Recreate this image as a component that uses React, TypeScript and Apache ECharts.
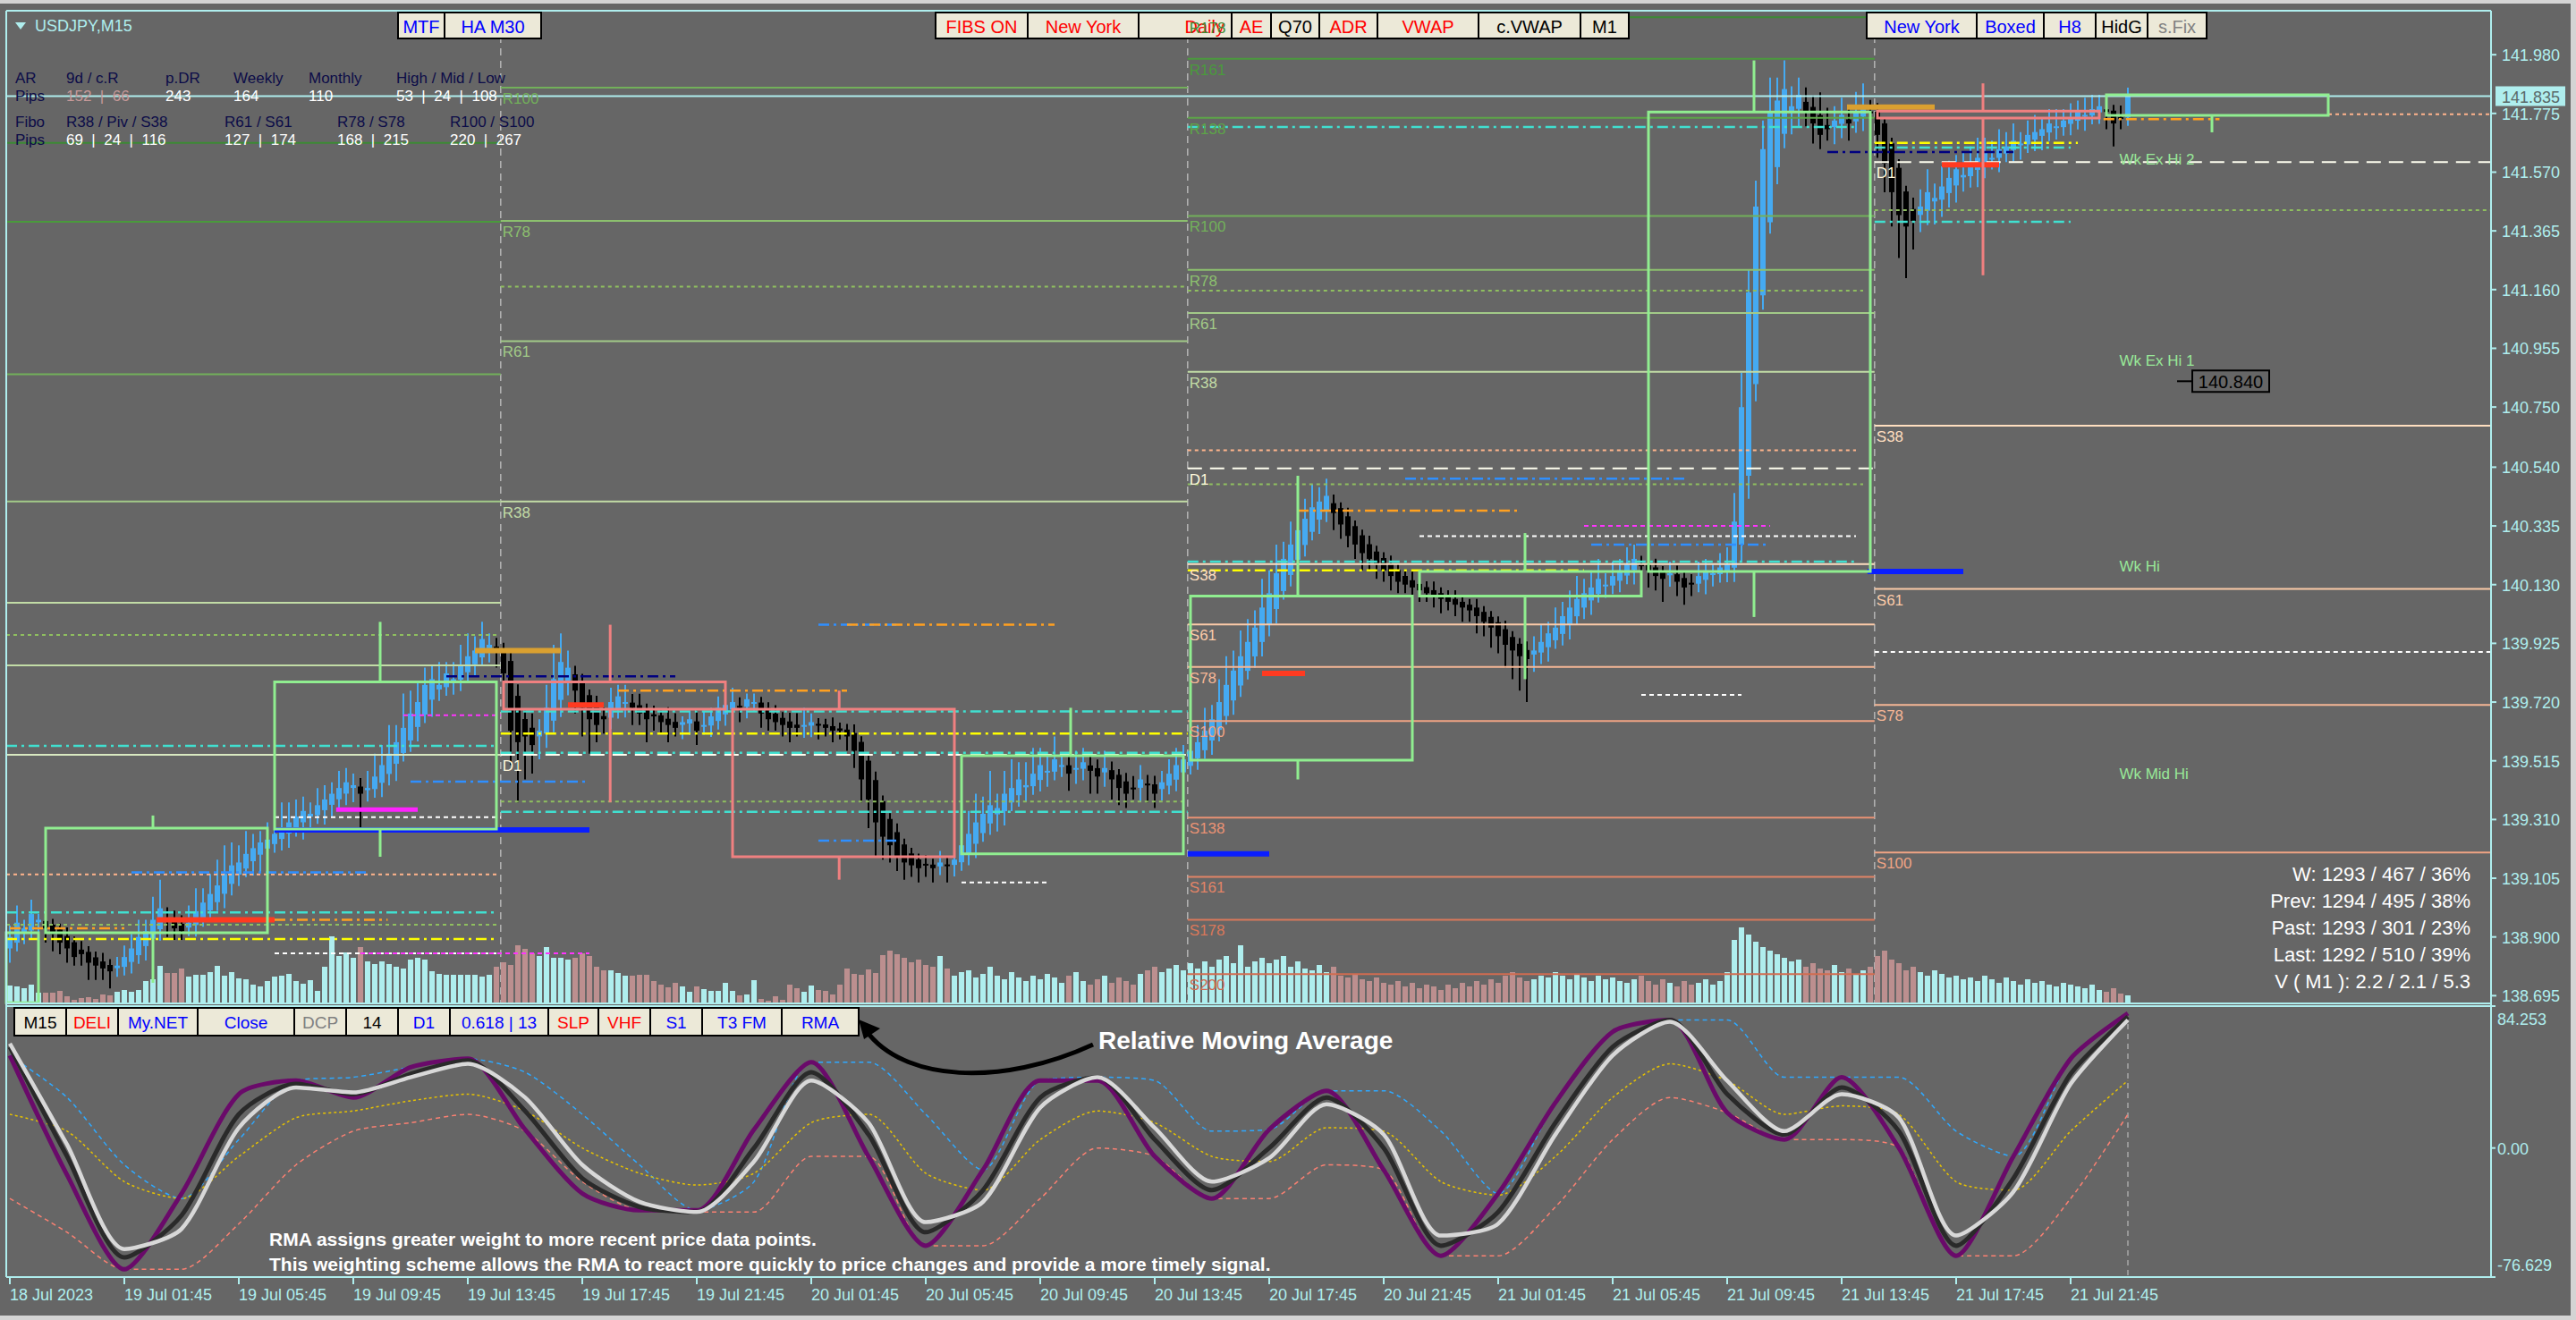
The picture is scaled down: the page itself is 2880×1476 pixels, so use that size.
import React, { useEffect, useRef } from "react";
import * as echarts from "echarts";

const W = 2880;
const H = 1476;
const BG = "#666666";
const FRAME = "#AFEEEE";
const FONT = '"Liberation Sans", Arial, sans-serif';

// ---------------- DATA ----------------
const firstOpen = 138.86;
// Heikin-Ashi close values (M15 bars)
const closes = [
  138.90, 138.95, 138.93, 138.98, 138.96, 138.93, 138.91, 138.88, 138.86, 138.83, 138.84, 138.81, 138.80, 138.79, 138.78, 138.80,
  138.83, 138.86, 138.90, 138.92, 138.96, 139.00, 138.96, 138.93, 138.92, 138.95, 138.99, 139.02, 139.05, 139.08, 139.12, 139.15,
  139.16, 139.19, 139.21, 139.23, 139.24, 139.26, 139.28, 139.30, 139.32, 139.34, 139.33, 139.36, 139.38, 139.40, 139.42, 139.44,
  139.43, 139.40, 139.42, 139.46, 139.50, 139.54, 139.58, 139.63, 139.68, 139.72, 139.78, 139.80, 139.78, 139.82, 139.80, 139.85,
  139.88, 139.90, 139.94, 139.92, 139.90, 139.82, 139.62, 139.58, 139.60, 139.57, 139.62, 139.70, 139.80, 139.86, 139.84, 139.76,
  139.70, 139.66, 139.64, 139.66, 139.72, 139.74, 139.72, 139.70, 139.68, 139.66, 139.67, 139.65, 139.64, 139.63, 139.65, 139.66,
  139.62, 139.64, 139.67, 139.70, 139.71, 139.72, 139.70, 139.73, 139.72, 139.68, 139.66, 139.65, 139.64, 139.63, 139.63, 139.64,
  139.65, 139.64, 139.63, 139.62, 139.62, 139.60, 139.55, 139.45, 139.38, 139.30, 139.25, 139.22, 139.18, 139.16, 139.15, 139.14,
  139.15, 139.14, 139.16, 139.15, 139.17, 139.22, 139.26, 139.30, 139.33, 139.36, 139.35, 139.40, 139.42, 139.45, 139.43, 139.47,
  139.50, 139.48, 139.52, 139.50, 139.47, 139.49, 139.51, 139.48, 139.46, 139.49, 139.45, 139.42, 139.40, 139.42, 139.45, 139.43,
  139.40, 139.44, 139.47, 139.50, 139.52, 139.55, 139.58, 139.62, 139.66, 139.72, 139.78, 139.83, 139.88, 139.93, 139.98, 140.05,
  140.10, 140.17, 140.22, 140.27, 140.32, 140.36, 140.40, 140.42, 140.44, 140.38, 140.34, 140.30, 140.27, 140.24, 140.22, 140.20,
  140.18, 140.16, 140.14, 140.13, 140.12, 140.11, 140.10, 140.09, 140.08, 140.07, 140.06, 140.05, 140.04, 140.02, 140.00, 139.98,
  139.95, 139.92, 139.90, 139.88, 139.87, 139.90, 139.93, 139.96, 139.98, 140.02, 140.05, 140.08, 140.10, 140.12, 140.15, 140.13,
  140.16, 140.18, 140.20, 140.22, 140.20, 140.18, 140.16, 140.15, 140.17, 140.14, 140.12, 140.13, 140.16, 140.18, 140.17, 140.19,
  140.20, 140.35, 140.75, 141.15, 141.45, 141.65, 141.78, 141.82, 141.86, 141.80, 141.84, 141.78, 141.74, 141.70, 141.72, 141.75,
  141.77, 141.74, 141.78, 141.80, 141.78, 141.70, 141.60, 141.50, 141.42, 141.38, 141.40, 141.45, 141.50, 141.48, 141.52, 141.55,
  141.58, 141.56, 141.60, 141.62, 141.64, 141.62, 141.65, 141.66, 141.68, 141.67, 141.70, 141.71, 141.72, 141.74, 141.73, 141.75,
  141.76, 141.78, 141.77, 141.79, 141.80, 141.78, 141.74, 141.76, 141.835,
];
// wick lengths in pips (0.01)
const upWick = [
  4, 6, 3, 5, 2, 3, 2, 2, 3, 2, 3, 2, 2, 3, 2, 3,
  4, 5, 6, 4, 8, 10, 4, 3, 3, 6, 8, 5, 7, 9, 10, 8,
  6, 8, 5, 4, 6, 5, 9, 7, 6, 5, 4, 6, 5, 4, 6, 5,
  4, 3, 6, 8, 7, 10, 6, 12, 8, 7, 6, 5, 8, 4, 6, 7,
  8, 5, 6, 4, 3, 2, 3, 4, 3, 5, 4, 8, 12, 10, 6, 3,
  3, 2, 4, 3, 5, 4, 6, 3, 4, 2, 3, 2, 4, 3, 2, 3,
  4, 5, 3, 4, 2, 5, 3, 2, 3, 2, 2, 3, 2, 3, 4, 6,
  3, 2, 2, 3, 2, 2, 3, 2, 2, 3, 2, 2, 3, 2, 2, 2,
  3, 2, 4, 3, 5, 6, 8, 10, 6, 12, 5, 8, 10, 6, 8, 9,
  6, 5, 8, 4, 3, 6, 5, 4, 3, 6, 3, 2, 3, 4, 5, 3,
  3, 4, 5, 6, 5, 4, 6, 8, 5, 8, 10, 7, 9, 8, 6, 10,
  8, 10, 6, 8, 9, 7, 8, 5, 6, 3, 2, 3, 2, 2, 3, 2,
  2, 3, 2, 2, 3, 2, 2, 3, 2, 2, 3, 2, 2, 3, 2, 2,
  2, 3, 2, 2, 3, 5, 6, 4, 7, 5, 6, 8, 5, 6, 7, 4,
  5, 4, 6, 5, 3, 2, 3, 2, 4, 3, 2, 3, 5, 4, 3, 5,
  6, 10, 12, 8, 9, 10, 12, 8, 10, 7, 6, 5, 4, 8, 6, 5,
  6, 5, 7, 8, 4, 3, 2, 2, 3, 2, 4, 6, 8, 5, 7, 6,
  5, 8, 6, 7, 5, 6, 7, 5, 6, 4, 5, 6, 4, 5, 6, 4,
  5, 4, 6, 5, 4, 3, 2, 4, 3,
];
const dnWick = [
  5, 3, 4, 3, 4, 5, 6, 4, 5, 3, 4, 6, 5, 4, 6, 3,
  3, 4, 3, 5, 3, 4, 6, 4, 3, 3, 4, 3, 4, 3, 5, 4,
  4, 3, 5, 6, 4, 3, 4, 5, 3, 6, 4, 3, 5, 4, 3, 4,
  5, 12, 4, 3, 5, 4, 6, 3, 4, 5, 3, 6, 4, 3, 5, 4,
  3, 4, 3, 5, 6, 8, 12, 21, 15, 10, 8, 5, 4, 6, 5, 8,
  10, 12, 6, 5, 4, 3, 5, 6, 4, 8, 5, 4, 6, 3, 5, 4,
  5, 3, 4, 3, 4, 3, 5, 4, 3, 5, 4, 3, 4, 5, 3, 4,
  4, 5, 3, 4, 3, 5, 6, 8, 10, 12, 8, 6, 5, 6, 4, 5,
  4, 5, 3, 6, 4, 3, 4, 5, 3, 4, 6, 5, 3, 4, 5, 3,
  4, 5, 3, 4, 6, 5, 4, 8, 6, 5, 7, 6, 5, 4, 5, 6,
  5, 4, 3, 4, 5, 3, 4, 3, 5, 4, 3, 5, 4, 3, 4, 5,
  4, 5, 3, 4, 3, 4, 3, 5, 4, 6, 5, 4, 5, 6, 4, 5,
  4, 5, 4, 3, 5, 4, 3, 4, 5, 3, 4, 5, 4, 6, 5, 7,
  6, 8, 10, 12, 15, 6, 4, 5, 3, 4, 5, 3, 4, 5, 3, 4,
  3, 4, 3, 5, 4, 6, 5, 8, 4, 5, 6, 4, 3, 5, 4, 3,
  4, 5, 6, 8, 6, 5, 4, 6, 5, 8, 6, 5, 7, 5, 4, 6,
  5, 6, 4, 5, 6, 8, 10, 12, 15, 18, 10, 6, 5, 8, 6, 5,
  6, 5, 4, 6, 5, 4, 5, 3, 4, 5, 3, 4, 5, 3, 4, 3,
  4, 3, 5, 3, 4, 6, 8, 4, 3,
];
const tickVolume = [
  19, 18, 16, 20, 11, 11, 11, 13, 7, 3, 5, 6, 4, 9, 8, 12,
  14, 12, 14, 24, 26, 41, 33, 33, 38, 29, 31, 31, 34, 41, 30, 34,
  27, 26, 20, 18, 24, 29, 30, 32, 24, 21, 25, 13, 40, 74, 52, 56,
  50, 62, 46, 43, 46, 43, 40, 38, 48, 50, 48, 35, 32, 31, 31, 31,
  31, 31, 29, 31, 40, 45, 42, 64, 60, 55, 52, 62, 50, 50, 48, 50,
  55, 52, 40, 36, 36, 33, 30, 30, 31, 31, 24, 20, 17, 22, 18, 12,
  18, 15, 13, 13, 22, 13, 8, 9, 25, 4, 2, 7, 3, 20, 16, 12,
  19, 14, 13, 9, 20, 38, 32, 31, 37, 33, 53, 58, 54, 50, 45, 48,
  42, 40, 52, 38, 30, 34, 36, 28, 32, 40, 30, 26, 34, 28, 24, 30,
  26, 32, 28, 22, 30, 34, 24, 20, 26, 30, 22, 28, 24, 20, 32, 36,
  40, 34, 38, 42, 36, 44, 38, 46, 40, 48, 52, 44, 64, 40, 46, 50,
  44, 48, 52, 40, 46, 38, 36, 42, 34, 40, 30, 28, 32, 26, 24, 28,
  22, 20, 24, 18, 22, 16, 20, 18, 14, 20, 16, 22, 18, 24, 20, 26,
  22, 30, 34, 28, 24, 26, 30, 28, 34, 30, 26, 32, 28, 24, 30, 26,
  28, 24, 22, 26, 30, 24, 20, 26, 22, 18, 24, 20, 22, 26, 20, 24,
  34, 70, 84, 76, 68, 62, 58, 54, 50, 46, 48, 40, 44, 38, 36, 42,
  34, 38, 32, 36, 40, 52, 58, 48, 44, 36, 40, 34, 30, 36, 32, 28,
  30, 26, 28, 24, 30, 26, 22, 28, 24, 20, 26, 22, 24, 20, 18, 22,
  20, 18, 16, 20, 14, 12, 16, 10, 8,
];

const priceTicks = [141.98, 141.775, 141.57, 141.365, 141.16, 140.955, 140.75, 140.54, 140.335, 140.13, 139.925, 139.72, 139.515, 139.31, 139.105, 138.9, 138.695];
const lastPrice = 141.835;
const timeTickLabels = [
  "18 Jul 2023", "19 Jul 01:45", "19 Jul 05:45", "19 Jul 09:45", "19 Jul 13:45", "19 Jul 17:45", "19 Jul 21:45",
  "20 Jul 01:45", "20 Jul 05:45", "20 Jul 09:45", "20 Jul 13:45", "20 Jul 17:45", "20 Jul 21:45",
  "21 Jul 01:45", "21 Jul 05:45", "21 Jul 09:45", "21 Jul 13:45", "21 Jul 17:45", "21 Jul 21:45",
];
const barsPerTimeTick = 16;
const oscTicks = [84.253, 0, -76.629];
const oscTickLabels = ["84.253", "0.00", "-76.629"];
const daySeparators = [68.6, 164.6, 260.6];

// oscillator (RMA) samples
const oscIdx = [0, 8, 16, 24, 32, 40, 48, 56, 64, 72, 80, 88, 96, 104, 112, 120, 128, 136, 144, 152, 160, 168, 176, 184, 192, 200, 208, 216, 224, 232, 240, 248, 256, 264, 272, 280, 288, 296];
const rmaPurple = [55, -16, -72, -27, 32, 40, 30, 48, 53, 11, -27, -37, -37, 11, 51, -5, -58, -13, 40, 40, -5, -30, 11, 34, -13, -64, -27, 27, 69, 76, 21, 5, 42, 0, -64, -5, 53, 80];
const rmaBlack = [60, -5, -65, -40, 20, 38, 32, 44, 52, 22, -18, -35, -38, 0, 45, 8, -50, -25, 30, 42, 5, -25, 0, 30, 0, -58, -38, 15, 60, 76, 32, 8, 36, 10, -58, -18, 44, 78];
const rmaWhite = [62, 2, -60, -48, 12, 36, 33, 42, 50, 30, -10, -32, -38, -8, 40, 15, -44, -32, 24, 42, 12, -20, -6, 26, 8, -52, -45, 8, 55, 75, 40, 10, 32, 18, -52, -26, 38, 76];
const sigYellow = [20, 10, -20, -30, -5, 18, 22, 28, 32, 22, 0, -15, -22, -15, 15, 20, -15, -25, 5, 22, 15, -5, -8, 12, 10, -20, -28, -5, 30, 50, 40, 20, 25, 20, -20, -25, 10, 40];
const bandSalmon = [-30, -50, -72, -72, -45, -10, 10, 15, 20, 10, -20, -37, -38, -38, -5, -5, -58, -58, -30, 0, -5, -30, -30, -10, -13, -64, -64, -35, 5, 30, 21, 5, 5, 0, -64, -64, -30, 20];
const bandBlue = [55, 30, -10, -30, 5, 40, 42, 48, 53, 45, 20, -10, -37, -20, 51, 51, 20, -13, 40, 42, 40, 10, 11, 34, 34, 10, -27, 27, 69, 76, 76, 42, 42, 42, 10, -5, 53, 80];

// H8 boxed candles
const h8Boxes = [
  { from: -0.5, to: 4, open: 138.67, close: 138.915, high: 138.915, low: 138.67, wick: -1 },
  { from: 5, to: 36, open: 138.915, close: 139.28, high: 139.324, low: 138.74, wick: 20 },
  { from: 37, to: 68, open: 139.277, close: 139.79, high: 140.0, low: 139.18, wick: 51.75 },
  { from: 69, to: 100, open: 139.79, close: 139.695, high: 139.99, low: 139.37, wick: 83.9 },
  { from: 101, to: 132, open: 139.695, close: 139.18, high: 139.76, low: 139.1, wick: 115.9 },
  { from: 133, to: 164, open: 139.19, close: 139.533, high: 139.7, low: 139.19, wick: 148.25 },
  { from: 165, to: 196, open: 139.517, close: 140.09, high: 140.51, low: 139.45, wick: 180 },
  { from: 197, to: 228, open: 140.09, close: 140.176, high: 140.31, low: 139.8, wick: 211.75 },
  { from: 229, to: 260, open: 140.176, close: 141.78, high: 141.96, low: 140.017, wick: 243.75 },
  { from: 261, to: 292, open: 141.783, close: 141.759, high: 141.88, low: 141.21, wick: 275.75 },
  { from: 293, to: 324, open: 141.768, close: 141.84, high: 141.84, low: 141.709, wick: 307.75 },
];

// daily fibonacci levels
const fiboDay0Prices = [141.672, 141.397, 140.864, 140.42, 140.067, 139.848, 139.536];
const fiboDay0Names = ["R100", "R78", "R61", "R38", "R38", "R38", "R38"];
const fiboDay1Names = ["R100", "R78", "R61", "R38", "D1"];
const fiboDay1Prices = [141.865, 141.4, 140.98, 140.42, 139.536];
const fiboDay2Names = ["R178", "R161", "R138", "R100", "R78", "R61", "R38", "D1", "S38", "S61", "S78", "S100", "S138", "S161", "S178", "S200"];
const fiboDay2Prices = [142.111, 141.966, 141.76, 141.417, 141.229, 141.078, 140.873, 140.536, 140.202, 139.991, 139.843, 139.654, 139.317, 139.11, 138.96, 138.77];
const fiboDay3Names = ["D1", "S38", "S61", "S78", "S100"];
const fiboDay3Prices = [141.605, 140.685, 140.115, 139.71, 139.195];

// other levels: [fromBar, toBar, price]
const greenDotted = [[-0.5, 68, 139.954], [-0.5, 68, 138.943], [68.6, 164.6, 141.17], [164.6, 259, 141.156], [164.6, 259, 140.48], [260.6, 346.75, 141.437], [68.6, 164.6, 139.373]];
const peachDotted = [[-0.5, 68, 139.118], [164.6, 258, 140.599], [324, 346.5, 141.772]];
const cyanDashDot = [[-0.5, 68, 139.567], [-0.5, 68, 138.986], [68.6, 164.6, 139.687], [68.6, 164.6, 139.543], [68.6, 164.6, 139.337], [164.6, 258, 140.21], [164.6, 258, 141.728], [260.6, 288, 141.397], [260.6, 288, 141.656]];
const yellowDashDot = [[-0.5, 68, 138.893], [68.6, 164.6, 139.61], [164.6, 220, 140.18], [260.6, 289, 141.672]];
const whiteDotted = [[37, 68.6, 138.843], [37, 68.6, 139.318], [133, 145, 139.09], [197, 258, 140.299], [260.6, 346.75, 139.895], [228, 242, 139.745]];
const magentaDotted = [[55, 68.6, 139.674], [49, 81, 138.843], [220, 246, 140.335]];
const blueDashDot = [[56, 81, 139.442], [17, 50, 139.125], [113, 124, 139.99], [195, 234, 140.5], [221, 246, 140.27], [113, 124, 139.236]];
const navyDashDot = [[61, 93, 139.81], [254, 280, 141.64]];
const orangeDashDot = [[0, 16, 138.93], [85, 117, 139.76], [117, 146, 139.99], [180, 211, 140.388], [292.6, 308.8, 141.755], [37, 52.8, 138.96]];
const blueThick = [[37, 81, 139.274], [164.6, 176, 139.19], [259.6, 273, 140.176]];
const redThick = [[20.5, 37, 138.96], [175, 181, 139.82], [78, 83, 139.71], [270, 278, 141.596]];
const goldThick = [[65, 77, 139.9], [256.75, 269, 141.797]];
const magentaThick = [[45.6, 57, 139.345]];

const weeklyNames = ["Wk Ex Hi 2", "Wk Ex Hi 1", "Wk Hi", "Wk Mid Hi"];
const weeklyPrices = [141.615, 140.91, 140.193, 139.47];
const weeklyLabelBar = 294.8;
const markedPrice = 140.84;

const statsLines = ["W: 1293 / 467 / 36%", "Prev: 1294 / 495 / 38%", "Past: 1293 / 301 / 23%", "Last: 1292 / 510 / 39%", "V ( M1 ): 2.2 / 2.1 / 5.3"];

// ---------------- STYLES ----------------
const fiboColors: Record<string, string> = {
  R200: "#2E7D32", R178: "#3C8A34", R161: "#4A9A3C", R138: "#5DA548", R100: "#72B05A", R78: "#8CC06E", R61: "#A2CA88", R38: "#C2DCA6",
  D1: "#FFFFF0", S38: "#FFDFC0", S61: "#FCCBA8", S78: "#F6B796", S100: "#F0A484", S138: "#E99274", S161: "#E28466", S178: "#DA785A", S200: "#D26C50",
};
const day0Colors = ["#3C8A34", "#4A9A3C", "#72B05A", "#A2CA88", "#C2DCA6", "#C2DCA6", "#D8E8C0"];

const CANDLE_UP = "#45AAF2";
const CANDLE_DN = "#000000";

function txtStyle(text: string, fill: string, size: number, align = "left", valign = "middle", weight = "normal") {
  return {
    text, fill, fontSize: size, fontFamily: FONT, fontWeight: weight,
    align, verticalAlign: valign, textAlign: align, textVerticalAlign: valign,
  } as any;
}

function segSeries(segs: number[][], style: any, z = 3) {
  return {
    type: "custom", xAxisIndex: 0, yAxisIndex: 0, z, silent: true,
    data: segs.map((s) => [s[0], s[2]]),
    renderItem: (params: any, api: any) => {
      const s = segs[params.dataIndex];
      const a = api.coord([s[0], s[2]]);
      const b = api.coord([s[1], s[2]]);
      return { type: "line", shape: { x1: a[0], y1: a[1], x2: b[0], y2: b[1] }, style: { ...style, fill: null } };
    },
  };
}

function fiboSeries(names: string[], prices: number[], from: number, to: number, colors?: string[], labels = true) {
  const lines = {
    type: "custom", xAxisIndex: 0, yAxisIndex: 0, z: 3, silent: true,
    data: prices.map((p) => [from, p]),
    renderItem: (params: any, api: any) => {
      const i = params.dataIndex;
      const n = names[i];
      const a = api.coord([from, prices[i]]);
      const b = api.coord([to, prices[i]]);
      const col = colors ? colors[i] : fiboColors[n];
      const isPivot = n === "D1";
      return {
        type: "line", shape: { x1: a[0], y1: a[1], x2: b[0], y2: b[1] },
        style: { stroke: isPivot ? "#FFFFF0" : col, lineWidth: 2, lineDash: isPivot ? [16, 9] : null },
      };
    },
  };
  if (!labels) return [lines];
  const texts = {
    type: "custom", xAxisIndex: 0, yAxisIndex: 0, z: 60, silent: true,
    data: prices.map((p) => [from, p]),
    renderItem: (params: any, api: any) => {
      const i = params.dataIndex;
      const n = names[i];
      const a = api.coord([from, prices[i]]);
      return { type: "text", x: a[0] + 2, y: a[1] + 4, style: txtStyle(n, n === "D1" ? "#FFF8DC" : fiboColors[n], 17, "left", "top") };
    },
  };
  return [lines, texts];
}

function button(x: number, y: number, w: number, h: number, t: string, c: string, size = 20, align = "center") {
  return {
    type: "group", z: 50,
    children: [
      { type: "rect", z: 50, shape: { x, y, width: w, height: h }, style: { fill: "#ECE9D8", stroke: "#000000", lineWidth: 2 } },
      { type: "text", z: 51, x: align === "center" ? x + w / 2 : x + w - 8, y: y + h / 2 + 1, style: txtStyle(t, c, size, align, "middle") },
    ],
  };
}

const topButtons = [
  { x: 445, w: 52, t: "MTF", c: "#0000FF" },
  { x: 497, w: 108, t: "HA M30", c: "#0000FF" },
  { x: 1046, w: 103, t: "FIBS ON", c: "#FF0000" },
  { x: 1149, w: 124, t: "New York", c: "#FF0000" },
  { x: 1273, w: 104, t: "Daily", c: "#FF0000", right: true },
  { x: 1377, w: 44, t: "AE", c: "#FF0000" },
  { x: 1421, w: 54, t: "Q70", c: "#000000" },
  { x: 1475, w: 65, t: "ADR", c: "#FF0000" },
  { x: 1540, w: 113, t: "VWAP", c: "#FF0000" },
  { x: 1653, w: 114, t: "c.VWAP", c: "#000000" },
  { x: 1767, w: 54, t: "M1", c: "#000000" },
  { x: 2087, w: 123, t: "New York", c: "#0000FF" },
  { x: 2210, w: 75, t: "Boxed", c: "#0000FF" },
  { x: 2285, w: 58, t: "H8", c: "#0000FF" },
  { x: 2343, w: 58, t: "HidG", c: "#000000" },
  { x: 2401, w: 66, t: "s.Fix", c: "#808080" },
];
const bottomButtons = [
  { x: 16, w: 58, t: "M15", c: "#000000" },
  { x: 74, w: 58, t: "DELI", c: "#FF0000" },
  { x: 132, w: 89, t: "My.NET", c: "#0000FF" },
  { x: 221, w: 108, t: "Close", c: "#0000FF" },
  { x: 329, w: 58, t: "DCP", c: "#808080" },
  { x: 387, w: 58, t: "14", c: "#000000" },
  { x: 445, w: 58, t: "D1", c: "#0000FF" },
  { x: 503, w: 110, t: "0.618 | 13", c: "#0000FF" },
  { x: 613, w: 56, t: "SLP", c: "#FF0000" },
  { x: 669, w: 58, t: "VHF", c: "#FF0000" },
  { x: 727, w: 58, t: "S1", c: "#0000FF" },
  { x: 785, w: 89, t: "T3 FM", c: "#0000FF" },
  { x: 874, w: 86, t: "RMA", c: "#0000FF" },
];

function buildOption() {
  // Heikin-Ashi open: midpoint of the previous bar's body
  const opens: number[] = [];
  closes.forEach((c, i) => {
    opens.push(i === 0 ? firstOpen : (opens[i - 1] + closes[i - 1]) / 2);
  });
  const highs = closes.map((c, i) => Math.max(opens[i], c) + (upWick[i] ?? 2) * 0.01);
  const lows = closes.map((c, i) => Math.min(opens[i], c) - (dnWick[i] ?? 2) * 0.01);

  const series: any[] = [];

  // day separators
  series.push({
    type: "custom", xAxisIndex: 0, yAxisIndex: 0, z: 1, silent: true,
    data: daySeparators.map((d) => [d, 142]),
    renderItem: (params: any, api: any) => {
      const d = daySeparators[params.dataIndex];
      const a = api.coord([d, 142.1335]);
      const b = api.coord([d, 138.668]);
      return { type: "line", shape: { x1: a[0], y1: a[1], x2: b[0], y2: b[1] }, style: { stroke: "#B4B4B4", lineWidth: 1.5, lineDash: [8, 6] } };
    },
  });

  // volume
  series.push({
    type: "bar", xAxisIndex: 1, yAxisIndex: 1, z: 1, silent: true, barWidth: 6,
    data: tickVolume.map((v, i) => ({ value: [i, v], itemStyle: { color: closes[i] >= opens[i] ? "#AFEEEE" : "#BC8F8F" } })),
  });

  // candles
  series.push({
    type: "custom", xAxisIndex: 0, yAxisIndex: 0, z: 2, silent: true,
    data: closes.map((c, i) => [i, c]),
    renderItem: (params: any, api: any) => {
      const i = params.dataIndex;
      const o = opens[i], c = closes[i];
      const col = c >= o ? CANDLE_UP : CANDLE_DN;
      const x = api.coord([i, c])[0];
      const yo = api.coord([i, o])[1];
      const yc = api.coord([i, c])[1];
      const yh = api.coord([i, highs[i]])[1];
      const yl = api.coord([i, lows[i]])[1];
      return {
        type: "group",
        children: [
          { type: "line", shape: { x1: x, y1: yh, x2: x, y2: yl }, style: { stroke: col, lineWidth: 2 } },
          { type: "rect", shape: { x: x - 3, y: Math.min(yo, yc), width: 6, height: Math.max(2, Math.abs(yo - yc)) }, style: { fill: col } },
        ],
      };
    },
  });

  // fibonacci daily levels
  series.push(...fiboSeries(fiboDay0Names, fiboDay0Prices, -0.5, 68.6, day0Colors, false));
  series.push(...fiboSeries(fiboDay1Names, fiboDay1Prices, 68.6, 164.6));
  series.push(...fiboSeries(fiboDay2Names, fiboDay2Prices, 164.6, 260.6));
  series.push(...fiboSeries(fiboDay3Names, fiboDay3Prices, 260.6, 346.75));

  // other levels
  series.push(segSeries(greenDotted, { stroke: "#8FBF5F", lineWidth: 2, lineDash: [4, 4] }));
  series.push(segSeries(peachDotted, { stroke: "#FFB48C", lineWidth: 2, lineDash: [4, 4] }));
  series.push(segSeries(cyanDashDot, { stroke: "#40E0D0", lineWidth: 2.5, lineDash: [12, 5, 3, 5] }));
  series.push(segSeries(yellowDashDot, { stroke: "#FFFF00", lineWidth: 2.5, lineDash: [12, 5, 3, 5] }));
  series.push(segSeries(whiteDotted, { stroke: "#FFFFFF", lineWidth: 2, lineDash: [5, 4] }));
  series.push(segSeries(magentaDotted, { stroke: "#FF33FF", lineWidth: 2, lineDash: [5, 4] }));
  series.push(segSeries(blueDashDot, { stroke: "#2F8FFF", lineWidth: 2.5, lineDash: [12, 5, 3, 5] }));
  series.push(segSeries(navyDashDot, { stroke: "#000080", lineWidth: 2.5, lineDash: [12, 5, 3, 5] }));
  series.push(segSeries(orangeDashDot, { stroke: "#FFA020", lineWidth: 2.5, lineDash: [12, 5, 3, 5] }));
  series.push(segSeries(blueThick, { stroke: "#0A1EFF", lineWidth: 6 }, 4));
  series.push(segSeries(redThick, { stroke: "#FF3A20", lineWidth: 6 }, 4));
  series.push(segSeries(goldThick, { stroke: "#DAA030", lineWidth: 6 }, 4));
  series.push(segSeries(magentaThick, { stroke: "#FF22FF", lineWidth: 5 }, 4));

  // current price line
  series.push(segSeries([[-0.5, 346.75, lastPrice]], { stroke: FRAME, lineWidth: 2 }, 5));

  // H8 boxes
  series.push({
    type: "custom", xAxisIndex: 0, yAxisIndex: 0, z: 6, silent: true,
    data: h8Boxes.map((b) => [b.from, b.close]),
    renderItem: (params: any, api: any) => {
      const b = h8Boxes[params.dataIndex];
      const col = b.close >= b.open ? "#90EE90" : "#F08080";
      const p1 = api.coord([b.from, Math.max(b.open, b.close)]);
      const p2 = api.coord([b.to, Math.min(b.open, b.close)]);
      const wx = api.coord([b.wick, b.high])[0];
      const yh = api.coord([b.wick, b.high])[1];
      const yl = api.coord([b.wick, b.low])[1];
      const children: any[] = [
        { type: "rect", shape: { x: p1[0], y: p1[1], width: p2[0] - p1[0], height: Math.max(2, p2[1] - p1[1]) }, style: { fill: null, stroke: col, lineWidth: 3 } },
      ];
      if (b.wick >= 0) {
        children.push({ type: "line", shape: { x1: wx, y1: yh, x2: wx, y2: p1[1] }, style: { stroke: col, lineWidth: 3 } });
        children.push({ type: "line", shape: { x1: wx, y1: p2[1], x2: wx, y2: yl }, style: { stroke: col, lineWidth: 3 } });
      }
      return { type: "group", children };
    },
  });

  // weekly labels
  series.push({
    type: "custom", xAxisIndex: 0, yAxisIndex: 0, z: 60, silent: true,
    data: weeklyPrices.map((p) => [weeklyLabelBar, p]),
    renderItem: (params: any, api: any) => {
      const i = params.dataIndex;
      const a = api.coord([weeklyLabelBar, weeklyPrices[i]]);
      return { type: "text", x: a[0], y: a[1], style: txtStyle(weeklyNames[i], "#98E898", 17, "left", "middle") };
    },
  });
  // marked price box
  series.push({
    type: "custom", xAxisIndex: 0, yAxisIndex: 0, z: 60, silent: true,
    data: [[305, markedPrice]],
    renderItem: (params: any, api: any) => {
      const a = api.coord([305, markedPrice]);
      const x0 = a[0];
      return {
        type: "group",
        children: [
          { type: "line", shape: { x1: x0 - 17, y1: a[1], x2: x0, y2: a[1] }, style: { stroke: "#000", lineWidth: 2 } },
          { type: "rect", shape: { x: x0, y: a[1] - 12, width: 86, height: 24 }, style: { fill: BG, stroke: "#000", lineWidth: 2 } },
          { type: "text", x: x0 + 43, y: a[1] + 1, style: txtStyle(markedPrice.toFixed(3), "#000000", 20, "center", "middle") },
        ],
      };
    },
  });

  // price axis labels
  series.push({
    type: "custom", xAxisIndex: 0, yAxisIndex: 0, z: 70, silent: true,
    data: priceTicks.map((v) => [0, v]),
    renderItem: (params: any, api: any) => {
      const v = priceTicks[params.dataIndex];
      const y = api.coord([0, v])[1];
      return {
        type: "group",
        children: [
          { type: "line", shape: { x1: 2785, y1: y, x2: 2791, y2: y }, style: { stroke: FRAME, lineWidth: 2 } },
          { type: "text", x: 2797, y: y + 1, style: txtStyle(v.toFixed(3), FRAME, 18, "left", "middle") },
        ],
      };
    },
  });
  // current price tag
  series.push({
    type: "custom", xAxisIndex: 0, yAxisIndex: 0, z: 71, silent: true,
    data: [[0, lastPrice]],
    renderItem: (params: any, api: any) => {
      const y = api.coord([0, lastPrice])[1];
      return {
        type: "group",
        children: [
          { type: "rect", shape: { x: 2790, y: y - 11, width: 78, height: 22 }, style: { fill: FRAME } },
          { type: "text", x: 2797, y: y + 1, style: txtStyle(lastPrice.toFixed(3), "#5A6A6A", 18, "left", "middle") },
        ],
      };
    },
  });

  // oscillator lines
  const oscLine = (vals: number[], color: string, width: number, dash: any, z: number) => ({
    type: "line", xAxisIndex: 2, yAxisIndex: 2, z, silent: true, showSymbol: false, smooth: 0.25,
    data: oscIdx.map((x, k) => [x, vals[k]]),
    lineStyle: { color, width, type: dash },
  });
  series.push(oscLine(bandBlue, "#2EA8FF", 1.5, [5, 4], 3));
  series.push(oscLine(bandSalmon, "#FA8072", 1.5, [5, 4], 3));
  series.push(oscLine(sigYellow, "#E6C200", 1.5, [3, 3], 3));
  series.push(oscLine(rmaPurple, "#6A0A6A", 5, "solid", 4));
  series.push(oscLine(rmaBlack, "#2A2A2A", 5, "solid", 5));
  series.push(oscLine(rmaWhite, "#D8D8D8", 4.5, "solid", 6));

  // oscillator: current bar marker
  series.push({
    type: "custom", xAxisIndex: 2, yAxisIndex: 2, z: 2, silent: true,
    data: [[296, 0]],
    renderItem: (params: any, api: any) => {
      const a = api.coord([296, 84.253]);
      const b = api.coord([296, -76.629]);
      return { type: "line", shape: { x1: a[0], y1: a[1] + 20, x2: b[0], y2: b[1] }, style: { stroke: "#A8A8A8", lineWidth: 1.5, lineDash: [6, 5] } };
    },
  });
  // oscillator axis labels
  series.push({
    type: "custom", xAxisIndex: 2, yAxisIndex: 2, z: 70, silent: true,
    data: oscTicks.map((v) => [0, v]),
    renderItem: (params: any, api: any) => {
      const i = params.dataIndex;
      const y = api.coord([0, oscTicks[i]])[1];
      const va = i === 0 ? "top" : i === 2 ? "bottom" : "middle";
      return {
        type: "group",
        children: [
          { type: "line", shape: { x1: 2785, y1: y, x2: 2790, y2: y }, style: { stroke: FRAME, lineWidth: 2 } },
          { type: "text", x: 2792, y: i === 0 ? y + 6 : i === 2 ? y - 4 : y + 1, style: txtStyle(oscTickLabels[i], FRAME, 18, "left", va) },
        ],
      };
    },
  });
  // time axis labels
  series.push({
    type: "custom", xAxisIndex: 2, yAxisIndex: 2, z: 70, silent: true,
    data: timeTickLabels.map((_, k) => [k * barsPerTimeTick, -76.629]),
    renderItem: (params: any, api: any) => {
      const k = params.dataIndex;
      const p = api.coord([k * barsPerTimeTick, -76.629]);
      return {
        type: "group",
        children: [
          { type: "line", shape: { x1: p[0], y1: p[1], x2: p[0], y2: p[1] + 8 }, style: { stroke: FRAME, lineWidth: 2 } },
          { type: "text", x: p[0], y: p[1] + 20, style: txtStyle(timeTickLabels[k], FRAME, 18, "left", "middle") },
        ],
      };
    },
  });

  // ---------- graphic overlay ----------
  const g: any[] = [];
  g.push({ type: "rect", z: 0, shape: { x: 0, y: 0, width: W, height: 4 }, style: { fill: "#D4D4D4" } });
  g.push({ type: "rect", z: 0, shape: { x: 0, y: 1471, width: W, height: 5 }, style: { fill: "#D4D4D4" } });
  g.push({ type: "rect", z: 0, shape: { x: 2874, y: 0, width: 6, height: H }, style: { fill: "#D4D4D4" } });
  const fl = (x1: number, y1: number, x2: number, y2: number, w = 2) => ({ type: "line", z: 80, shape: { x1, y1, x2, y2 }, style: { stroke: FRAME, lineWidth: w } });
  g.push(fl(7, 12, 2785, 12));
  g.push(fl(7, 12, 7, 1428));
  g.push(fl(2785, 12, 2785, 1428));
  g.push(fl(7, 1122, 2785, 1122));
  g.push(fl(7, 1125, 2785, 1125));
  g.push(fl(7, 1428, 2785, 1428));

  // title
  g.push({ type: "polygon", z: 60, shape: { points: [[17, 25], [29, 25], [23, 33]] }, style: { fill: FRAME } });
  g.push({ type: "text", z: 60, x: 39, y: 29, style: txtStyle("USDJPY,M15", FRAME, 18, "left", "middle") });

  // info table
  const NAVY = "#0C0C48";
  const row = (y: number, items: [number, string, string][]) => items.forEach(([x, t, c]) => g.push({ type: "text", z: 60, x, y, style: txtStyle(t, c, 17, "left", "middle") }));
  row(87, [[17, "AR", NAVY], [74, "9d / c.R", NAVY], [185, "p.DR", NAVY], [261, "Weekly", NAVY], [345, "Monthly", NAVY], [443, "High / Mid / Low", NAVY]]);
  row(107, [[17, "Pips", NAVY], [74, "152  |  66", "#C89A9A"], [185, "243", "#FFFFFF"], [261, "164", "#FFFFFF"], [345, "110", "#FFFFFF"], [443, "53  |  24  |  108", "#FFFFFF"]]);
  row(136, [[17, "Fibo", NAVY], [74, "R38 / Piv / S38", NAVY], [251, "R61 / S61", NAVY], [377, "R78 / S78", NAVY], [503, "R100 / S100", NAVY]]);
  row(156, [[17, "Pips", NAVY], [74, "69  |  24  |  116", "#FFFFFF"], [251, "127  |  174", "#FFFFFF"], [377, "168  |  215", "#FFFFFF"], [503, "220  |  267", "#FFFFFF"]]);

  // buttons
  topButtons.forEach((b: any) => g.push(button(b.x, 14, b.w, 29, b.t, b.c, 20, b.right ? "right" : "center")));
  bottomButtons.forEach((b) => g.push(button(b.x, 1127, b.w, 31, b.t, b.c, 19)));

  // stats
  statsLines.forEach((t, i) => g.push({ type: "text", z: 60, x: 2762, y: 977 + i * 30, style: txtStyle(t, "#FFFFFF", 22, "right", "middle") }));

  // annotation
  g.push({ type: "text", z: 60, x: 1228, y: 1163, style: txtStyle("Relative Moving Average", "#FFFFFF", 28, "left", "middle", "bold") });
  g.push({ type: "bezierCurve", z: 60, shape: { x1: 1222, y1: 1168, cpx1: 1120, cpy1: 1215, cpx2: 1010, cpy2: 1210, x2: 968, y2: 1152 }, style: { stroke: "#000000", lineWidth: 5, fill: null } });
  g.push({ type: "polygon", z: 60, shape: { points: [[960, 1140], [984, 1150], [966, 1162]] }, style: { fill: "#000000" } });
  g.push({ type: "text", z: 60, x: 301, y: 1385, style: txtStyle("RMA assigns greater weight to more recent price data points.", "#FFFFFF", 21, "left", "middle", "bold") });
  g.push({ type: "text", z: 60, x: 301, y: 1413, style: txtStyle("This weighting scheme allows the RMA to react more quickly to price changes and provide a more timely signal.", "#FFFFFF", 21, "left", "middle", "bold") });

  return {
    animation: false,
    backgroundColor: BG,
    grid: [
      { left: 7, right: 95, top: 12, height: 1110 },
      { left: 7, right: 95, top: 1021, height: 100 },
      { left: 7, right: 95, top: 1125, height: 303 },
    ],
    xAxis: [0, 1, 2].map((gi) => ({ type: "value", gridIndex: gi, min: -0.5, max: 346.75, show: false })),
    yAxis: [
      { type: "value", gridIndex: 0, min: 138.668, max: 142.1335, show: false },
      { type: "value", gridIndex: 1, min: 0, max: 100, show: false },
      { type: "value", gridIndex: 2, min: -76.629, max: 84.253, show: false },
    ],
    series,
    graphic: { elements: g },
  };
}

export default function App() {
  const ref = useRef<HTMLDivElement>(null);
  useEffect(() => {
    document.body.style.margin = "0";
    document.body.style.overflow = "hidden";
    const chart = echarts.init(ref.current!, null, { renderer: "svg", width: W, height: H });
    chart.setOption(buildOption() as any);
    return () => chart.dispose();
  }, []);
  return <div ref={ref} style={{ position: "absolute", left: 0, top: 0, width: W, height: H }} />;
}
